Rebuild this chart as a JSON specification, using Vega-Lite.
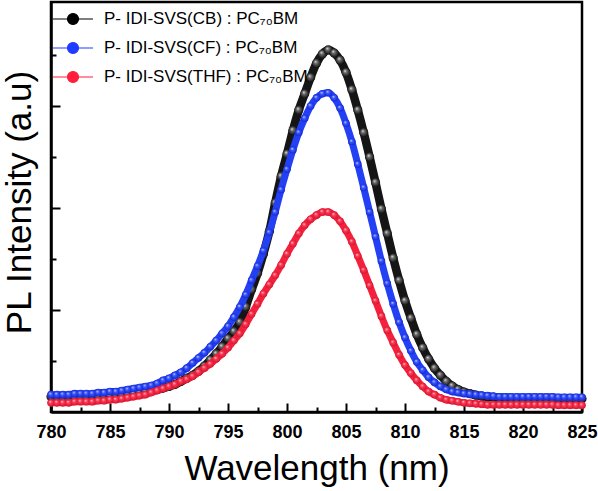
{
  "$schema": "https://vega.github.io/schema/vega-lite/v6.json",
  "width": 531,
  "height": 410,
  "autosize": "none",
  "padding": {"left": 51, "top": 2, "right": 16, "bottom": 79},
  "background": "white",
  "config": {
    "view": {"stroke": "black", "strokeWidth": 2.5},
    "axis": {"grid": false, "domainColor": "black", "domainWidth": 2.5, "tickColor": "black", "tickWidth": 2}
  },
  "data": {
    "values": [
      {"w": 780, "CB": 0.15, "CF": 0.17, "THF": 0.09},
      {"w": 780.5, "CB": 0.15, "CF": 0.17, "THF": 0.09},
      {"w": 781, "CB": 0.15, "CF": 0.17, "THF": 0.09},
      {"w": 781.5, "CB": 0.15, "CF": 0.17, "THF": 0.09},
      {"w": 782, "CB": 0.15, "CF": 0.18, "THF": 0.10},
      {"w": 782.5, "CB": 0.15, "CF": 0.18, "THF": 0.10},
      {"w": 783, "CB": 0.15, "CF": 0.18, "THF": 0.10},
      {"w": 783.5, "CB": 0.16, "CF": 0.18, "THF": 0.10},
      {"w": 784, "CB": 0.16, "CF": 0.19, "THF": 0.11},
      {"w": 784.5, "CB": 0.16, "CF": 0.19, "THF": 0.11},
      {"w": 785, "CB": 0.16, "CF": 0.20, "THF": 0.12},
      {"w": 785.5, "CB": 0.17, "CF": 0.20, "THF": 0.12},
      {"w": 786, "CB": 0.17, "CF": 0.21, "THF": 0.13},
      {"w": 786.5, "CB": 0.18, "CF": 0.22, "THF": 0.14},
      {"w": 787, "CB": 0.18, "CF": 0.23, "THF": 0.15},
      {"w": 787.5, "CB": 0.19, "CF": 0.24, "THF": 0.16},
      {"w": 788, "CB": 0.20, "CF": 0.25, "THF": 0.17},
      {"w": 788.5, "CB": 0.21, "CF": 0.26, "THF": 0.19},
      {"w": 789, "CB": 0.22, "CF": 0.28, "THF": 0.21},
      {"w": 789.5, "CB": 0.235, "CF": 0.31, "THF": 0.23},
      {"w": 790, "CB": 0.25, "CF": 0.33, "THF": 0.25},
      {"w": 790.5, "CB": 0.27, "CF": 0.36, "THF": 0.27},
      {"w": 791, "CB": 0.30, "CF": 0.39, "THF": 0.30},
      {"w": 791.5, "CB": 0.33, "CF": 0.43, "THF": 0.32},
      {"w": 792, "CB": 0.36, "CF": 0.48, "THF": 0.35},
      {"w": 792.5, "CB": 0.40, "CF": 0.53, "THF": 0.39},
      {"w": 793, "CB": 0.45, "CF": 0.58, "THF": 0.43},
      {"w": 793.5, "CB": 0.51, "CF": 0.64, "THF": 0.47},
      {"w": 794, "CB": 0.57, "CF": 0.70, "THF": 0.52},
      {"w": 794.5, "CB": 0.64, "CF": 0.77, "THF": 0.57},
      {"w": 795, "CB": 0.72, "CF": 0.84, "THF": 0.63},
      {"w": 795.5, "CB": 0.79, "CF": 0.93, "THF": 0.70},
      {"w": 796, "CB": 0.88, "CF": 1.03, "THF": 0.77},
      {"w": 796.5, "CB": 1.03, "CF": 1.15, "THF": 0.86},
      {"w": 797, "CB": 1.20, "CF": 1.29, "THF": 0.96},
      {"w": 797.5, "CB": 1.36, "CF": 1.43, "THF": 1.06},
      {"w": 798, "CB": 1.55, "CF": 1.58, "THF": 1.16},
      {"w": 798.5, "CB": 1.77, "CF": 1.76, "THF": 1.25},
      {"w": 799, "CB": 2.05, "CF": 1.96, "THF": 1.34},
      {"w": 799.5, "CB": 2.31, "CF": 2.18, "THF": 1.44},
      {"w": 800, "CB": 2.53, "CF": 2.38, "THF": 1.55},
      {"w": 800.5, "CB": 2.76, "CF": 2.57, "THF": 1.65},
      {"w": 801, "CB": 2.96, "CF": 2.74, "THF": 1.75},
      {"w": 801.5, "CB": 3.12, "CF": 2.88, "THF": 1.83},
      {"w": 802, "CB": 3.28, "CF": 3.00, "THF": 1.89},
      {"w": 802.5, "CB": 3.42, "CF": 3.08, "THF": 1.93},
      {"w": 803, "CB": 3.51, "CF": 3.12, "THF": 1.96},
      {"w": 803.5, "CB": 3.55, "CF": 3.13, "THF": 1.96},
      {"w": 804, "CB": 3.52, "CF": 3.08, "THF": 1.93},
      {"w": 804.5, "CB": 3.45, "CF": 2.98, "THF": 1.87},
      {"w": 805, "CB": 3.33, "CF": 2.83, "THF": 1.78},
      {"w": 805.5, "CB": 3.16, "CF": 2.65, "THF": 1.67},
      {"w": 806, "CB": 2.96, "CF": 2.43, "THF": 1.53},
      {"w": 806.5, "CB": 2.74, "CF": 2.20, "THF": 1.39},
      {"w": 807, "CB": 2.50, "CF": 1.96, "THF": 1.24},
      {"w": 807.5, "CB": 2.25, "CF": 1.72, "THF": 1.09},
      {"w": 808, "CB": 1.99, "CF": 1.48, "THF": 0.94},
      {"w": 808.5, "CB": 1.75, "CF": 1.26, "THF": 0.80},
      {"w": 809, "CB": 1.51, "CF": 1.06, "THF": 0.68},
      {"w": 809.5, "CB": 1.29, "CF": 0.88, "THF": 0.56},
      {"w": 810, "CB": 1.09, "CF": 0.73, "THF": 0.46},
      {"w": 810.5, "CB": 0.92, "CF": 0.60, "THF": 0.38},
      {"w": 811, "CB": 0.76, "CF": 0.49, "THF": 0.31},
      {"w": 811.5, "CB": 0.63, "CF": 0.41, "THF": 0.25},
      {"w": 812, "CB": 0.52, "CF": 0.34, "THF": 0.20},
      {"w": 812.5, "CB": 0.43, "CF": 0.29, "THF": 0.17},
      {"w": 813, "CB": 0.36, "CF": 0.25, "THF": 0.14},
      {"w": 813.5, "CB": 0.30, "CF": 0.22, "THF": 0.12},
      {"w": 814, "CB": 0.255, "CF": 0.20, "THF": 0.11},
      {"w": 814.5, "CB": 0.22, "CF": 0.19, "THF": 0.10},
      {"w": 815, "CB": 0.195, "CF": 0.18, "THF": 0.09},
      {"w": 815.5, "CB": 0.18, "CF": 0.175, "THF": 0.085},
      {"w": 816, "CB": 0.165, "CF": 0.17, "THF": 0.08},
      {"w": 816.5, "CB": 0.155, "CF": 0.165, "THF": 0.075},
      {"w": 817, "CB": 0.15, "CF": 0.16, "THF": 0.07},
      {"w": 817.5, "CB": 0.145, "CF": 0.155, "THF": 0.07},
      {"w": 818, "CB": 0.14, "CF": 0.15, "THF": 0.07},
      {"w": 818.5, "CB": 0.14, "CF": 0.15, "THF": 0.07},
      {"w": 819, "CB": 0.135, "CF": 0.15, "THF": 0.07},
      {"w": 819.5, "CB": 0.13, "CF": 0.15, "THF": 0.07},
      {"w": 820, "CB": 0.13, "CF": 0.15, "THF": 0.07},
      {"w": 820.5, "CB": 0.13, "CF": 0.15, "THF": 0.07},
      {"w": 821, "CB": 0.13, "CF": 0.15, "THF": 0.07},
      {"w": 821.5, "CB": 0.13, "CF": 0.15, "THF": 0.07},
      {"w": 822, "CB": 0.13, "CF": 0.15, "THF": 0.07},
      {"w": 822.5, "CB": 0.13, "CF": 0.15, "THF": 0.07},
      {"w": 823, "CB": 0.13, "CF": 0.145, "THF": 0.065},
      {"w": 823.5, "CB": 0.13, "CF": 0.145, "THF": 0.065},
      {"w": 824, "CB": 0.13, "CF": 0.145, "THF": 0.065},
      {"w": 824.5, "CB": 0.13, "CF": 0.145, "THF": 0.065},
      {"w": 825, "CB": 0.13, "CF": 0.145, "THF": 0.065}
    ]
  },
  "transform": [{"fold": ["CB", "CF", "THF"], "as": ["series", "pl"]}],
  "encoding": {
    "x": {
      "field": "w", "type": "quantitative",
      "scale": {"domain": [780, 825], "nice": false, "zero": false},
      "axis": {
        "values": [780, 782.5, 785, 787.5, 790, 792.5, 795, 797.5, 800, 802.5, 805, 807.5, 810, 812.5, 815, 817.5, 820, 822.5, 825],
        "labelExpr": "datum.value % 5 == 0 ? datum.label : ''",
        "tickSize": {"condition": {"test": "datum.value % 5 != 0", "value": -5}, "value": -9},
        "labelFlush": false, "labelOverlap": false,
        "labelFont": "Liberation Sans", "labelFontSize": 18, "labelFontWeight": "bold", "labelColor": "black",
        "labelPadding": 20,
        "title": "Wavelength (nm)", "titleFont": "Liberation Sans", "titleFontSize": 35, "titleFontWeight": "normal", "titleColor": "black",
        "titleX": 265.5, "titleY": 67, "titleBaseline": "alphabetic", "titleAlign": "center"
      }
    },
    "y": {
      "field": "pl", "type": "quantitative",
      "scale": {"domain": [0, 4.02], "nice": false},
      "axis": {
        "values": [0.5, 1, 1.5, 2, 2.5, 3, 3.5],
        "labels": false,
        "tickSize": {"condition": {"test": "datum.value % 1 != 0", "value": -5}, "value": -9},
        "title": "PL Intensity (a.u)", "titleFont": "Liberation Sans", "titleFontSize": 35, "titleFontWeight": "normal", "titleColor": "black",
        "titleX": -21, "titleY": 200, "titleBaseline": "alphabetic", "titleAlign": "center", "titleAngle": -90
      }
    }
  },
  "layer": [
    {
      "mark": {"type": "point", "filled": true, "size": 44, "opacity": 1},
      "encoding": {
        "color": {
          "field": "series", "type": "nominal",
          "scale": {"domain": ["CB", "CF", "THF"], "range": ["#000000", "#1f3cff", "#ff1f3c"]},
          "legend": {
            "orient": "none", "legendX": 11, "legendY": 6, "title": null, "padding": 0,
            "symbolType": "M-2,0L2,0M-0.55,0A0.55,0.55,0,1,0,0.55,0A0.55,0.55,0,1,0,-0.55,0Z",
            "symbolSize": 400, "symbolStrokeWidth": 1.2, "symbolOpacity": 1,
            "labelFont": "Liberation Sans", "labelFontSize": 17, "labelColor": "black", "labelOffset": 20, "labelLimit": 0,
            "rowPadding": 10,
            "labelExpr": "'P- IDI-SVS(' + datum.label + ') : PC₇₀BM'",
            "encode": {"symbols": {"update": {"fill": {"scale": "color", "field": "value"}, "stroke": {"scale": "color", "field": "value"}}}}
          }
        }
      }
    },
    {
      "transform": [{"filter": "datum.series == 'CB'"}],
      "mark": {"type": "line", "color": "#151515", "strokeWidth": 8.5, "interpolate": "monotone"}
    },
    {
      "transform": [{"filter": "datum.series == 'CB'"}],
      "mark": {"type": "point", "filled": true, "size": 85, "opacity": 1, "strokeWidth": 0,
        "fill": {"gradient": "radial", "x1": 0.38, "y1": 0.32, "r1": 0, "x2": 0.5, "y2": 0.5, "r2": 0.55,
          "stops": [{"offset": 0, "color": "#f0f0f0"}, {"offset": 0.3, "color": "#707070"}, {"offset": 1, "color": "#000000"}]}}
    },
    {
      "transform": [{"filter": "datum.series == 'CF'"}],
      "mark": {"type": "line", "color": "#2340f5", "strokeWidth": 7, "interpolate": "monotone"}
    },
    {
      "transform": [{"filter": "datum.series == 'CF'"}],
      "mark": {"type": "point", "filled": true, "size": 58, "opacity": 1, "strokeWidth": 0,
        "fill": {"gradient": "radial", "x1": 0.38, "y1": 0.32, "r1": 0, "x2": 0.5, "y2": 0.5, "r2": 0.55,
          "stops": [{"offset": 0, "color": "#d8e0ff"}, {"offset": 0.35, "color": "#3a58ff"}, {"offset": 1, "color": "#1020d0"}]}}
    },
    {
      "transform": [{"filter": "datum.series == 'THF'"}],
      "mark": {"type": "line", "color": "#f5203c", "strokeWidth": 7, "interpolate": "monotone"}
    },
    {
      "transform": [{"filter": "datum.series == 'THF'"}],
      "mark": {"type": "point", "filled": true, "size": 58, "opacity": 1, "strokeWidth": 0,
        "fill": {"gradient": "radial", "x1": 0.38, "y1": 0.32, "r1": 0, "x2": 0.5, "y2": 0.5, "r2": 0.55,
          "stops": [{"offset": 0, "color": "#ffd8e0"}, {"offset": 0.35, "color": "#ff3a58"}, {"offset": 1, "color": "#d01028"}]}}
    }
  ]
}
